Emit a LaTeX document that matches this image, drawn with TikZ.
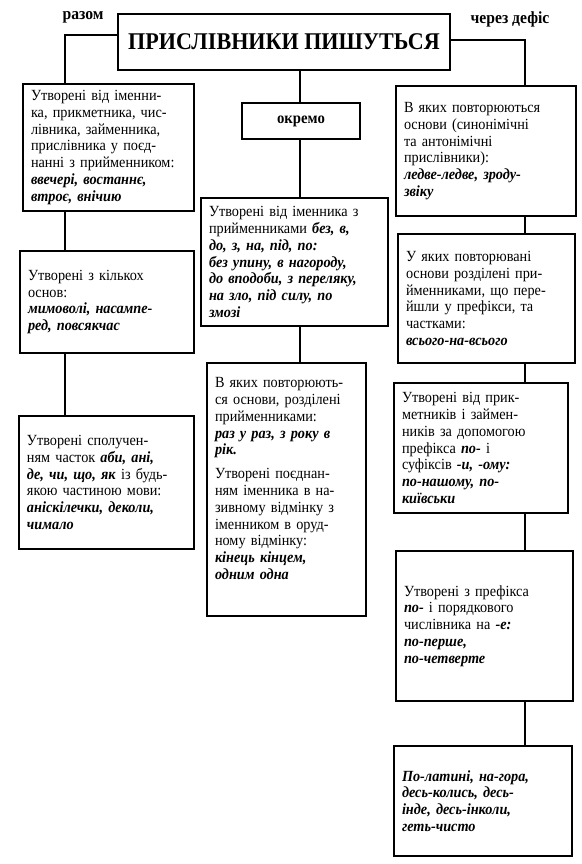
\documentclass[tikz,border=0pt]{standalone}
\usepackage{fontspec}
\setmainfont[FakeStretch=0.92]{Liberation Serif}
\newcommand{\ex}[1]{\textbf{\textit{#1}}}
\tikzset{
  box/.style={draw, line width=2pt, anchor=north west, align=left,
    inner xsep=8pt, inner ysep=3pt, font=\fontsize{15.5}{16.8}\selectfont},
  link/.style={line width=2pt},
  lbl/.style={font=\bfseries\fontsize{17}{19}\selectfont}
}
\begin{document}
\begin{tikzpicture}[x=1pt,y=-1pt]
\useasboundingbox[fill=white] (0,0) rectangle (581,864);

% title and labels
\node[draw, line width=2pt, minimum width=332pt, minimum height=56pt,
  font=\bfseries\fontsize{24}{26}\selectfont] (title) at (284,42) {ПРИСЛІВНИКИ ПИШУТЬСЯ};
\node[lbl] (razom) at (83,17) {разом};
\node[lbl] (defis) at (510,19) {через дефіс};

% spines
\coordinate (lx) at (65,0);
\coordinate (cx) at (300,0);
\coordinate (rx) at (525,0);

% left column
\node[box, text width=155pt, minimum height=127pt] (l1) at (22,83) {Утворені від іменни-\\ка, прикметника, чис-\\лівника, займенника,\\прислівника у поєд-\\нанні з прийменником:\\\ex{ввечері, востаннє,}\\\ex{втроє, внічию}};
\node[box, text width=158pt, minimum height=102pt] (l2) at (19,250) {Утворені з кількох\\основ:\\\ex{мимоволі, насампе-}\\\ex{ред, повсякчас}};
\node[box, text width=159pt, minimum height=133pt] (l3) at (18,415) {Утворені сполучен-\\ням часток \ex{аби, ані,}\\\ex{де, чи, що, як} із будь-\\якою частиною мови:\\\ex{аніскілечки, деколи,}\\\ex{чимало}};

% middle column
\node[draw, line width=2pt, minimum width=118pt, minimum height=35pt,
  font=\bfseries\fontsize{16}{18}\selectfont] (ok) at (301,121) {окремо};
\node[box, text width=171pt, minimum height=128pt] (c2) at (200,197) {Утворені від іменника з\\прийменниками \ex{без, в,}\\\ex{до, з, на, під, по:}\\\ex{без упину, в нагороду,}\\\ex{до вподоби, з переляку,}\\\ex{на зло, під силу, по}\\\ex{змозі}};
\node[box, text width=143pt, minimum height=253pt] (c3) at (206,362) {В яких повторюють-\\ся основи, розділені\\прийменниками:\\\ex{раз у раз, з року в}\\\ex{рік.}\\[7pt]Утворені поєднан-\\ням іменника в на-\\зивному відмінку з\\іменником в оруд-\\ному відмінку:\\\ex{кінець кінцем,}\\\ex{одним одна}\rule[-22pt]{0pt}{22pt}};

% right column
\node[box, text width=164pt, minimum height=130pt] (r1) at (395,85) {В яких повторюються\\основи (синонімічні\\та антонімічні\\прислівники):\\\ex{ледве-ледве, зроду-}\\\ex{звіку}};
\node[box, text width=161pt, minimum height=129pt] (r2) at (397,233) {У яких повторювані\\основи розділені при-\\йменниками, що пере-\\йшли у префікси, та\\частками:\\\ex{всього-на-всього}};
\node[box, text width=158pt, minimum height=130pt] (r3) at (393,382) {Утворені від прик-\\метників і займен-\\ників за допомогою\\префікса \ex{по-} і\\суфіксів \ex{-и, -ому:}\\\ex{по-нашому, по-}\\\ex{київськи}};
\node[box, text width=161pt, minimum height=150pt] (r4) at (395,550) {Утворені з префікса\\\ex{по-} і порядкового\\числівника на \ex{-е:}\\\ex{по-перше,}\\\ex{по-четверте}};
\node[box, text width=162pt, minimum height=110pt] (r5) at (393,745) {\ex{По-латині, на-гора,}\\\ex{десь-колись, десь-}\\\ex{інде, десь-інколи,}\\\ex{геть-чисто}};

% connectors
\draw[link] ([yshift=7pt]title.west) -| (lx |- l1.north);
\draw[link] ([yshift=2pt]title.east) -| (rx |- r1.north);
\draw[link] (cx |- title.south) -- (cx |- ok.north);
\draw[link] (lx |- l1.south) -- (lx |- l2.north);
\draw[link] (lx |- l2.south) -- (lx |- l3.north);
\draw[link] (cx |- ok.south) -- (cx |- c2.north);
\draw[link] (cx |- c2.south) -- (cx |- c3.north);
\draw[link] (rx |- r1.south) -- (rx |- r2.north);
\draw[link] (rx |- r2.south) -- (rx |- r3.north);
\draw[link] (rx |- r3.south) -- (rx |- r4.north);
\draw[link] (rx |- r4.south) -- (rx |- r5.north);
\end{tikzpicture}
\end{document}
